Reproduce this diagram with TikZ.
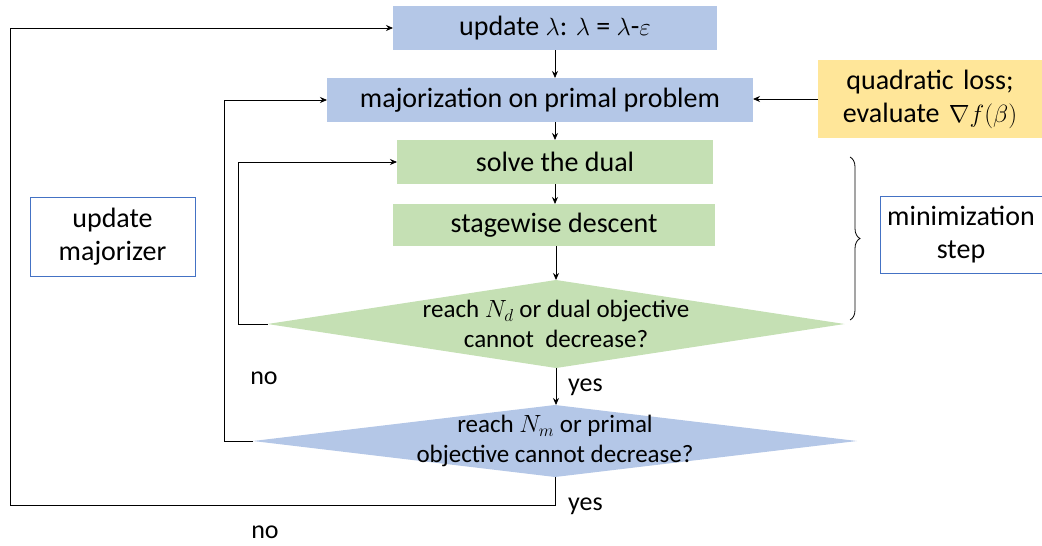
\documentclass[tikz,border=0pt]{standalone}
\usepackage{fontspec}
\setmainfont{Carlito}
\usetikzlibrary{shapes.geometric,decorations.pathreplacing,arrows.meta}
\definecolor{bluefill}{HTML}{B4C7E7}
\definecolor{greenfill}{HTML}{C5E0B4}
\definecolor{yellowfill}{HTML}{FFE699}
\definecolor{frameblue}{HTML}{4472C4}
\begin{document}
\begin{tikzpicture}[x=1pt,y=-1pt,
  box/.style={inner sep=0pt,outer sep=0pt,align=center,font=\fontsize{28}{33}\selectfont},
  bluebox/.style={box,fill=bluefill},
  greenbox/.style={box,fill=greenfill},
  yellowbox/.style={box,fill=yellowfill},
  framebox/.style={box,draw=frameblue,line width=0.6pt},
  dia/.style={shape=diamond,inner sep=0pt,outer sep=0pt},
  diatext/.style={align=center,inner sep=0pt,font=\fontsize{25}{30}\selectfont},
  lbl/.style={inner sep=0pt,font=\fontsize{26}{30}\selectfont},
  arr/.style={-{Stealth[length=7pt,width=6pt]},line width=0.8pt},
  ln/.style={line width=0.8pt}]
\useasboundingbox (0,0) rectangle (1042,546);
% boxes
\node[bluebox,minimum width=324,minimum height=44] (upd) at (555,28) {update $\lambda$: $\lambda$ = $\lambda$-$\varepsilon$};
\node[bluebox,minimum width=426,minimum height=44] (maj) at (540,100) {majorization on primal problem};
\node[yellowbox,minimum width=225,minimum height=78,text width=225] (quad) at (930,99) {quadratic loss;\\evaluate $\nabla f(\beta)$};
\node[greenbox,minimum width=316,minimum height=44] (solve) at (555,162) {solve the dual};
\node[greenbox,minimum width=322,minimum height=42] (stage) at (554,225) {stagewise descent};
\node[dia,fill=greenfill,minimum width=577,minimum height=88] (d1) at (556,324) {};
\node[diatext] (d1t) at (556,324) {reach $N_d$ or dual objective\\cannot\ \ decrease?};
\node[dia,fill=bluefill,minimum width=604,minimum height=72] (d2) at (555,441) {};
\node[diatext] (d2t) at (555,441) {reach $N_m$ or primal\\objective cannot decrease?};
\node[framebox,minimum width=165,minimum height=79,text width=165] (umaj) at (112.5,236.5) {update\\majorizer};
\node[framebox,minimum width=162,minimum height=77,text width=162] (mins) at (961,234.5) {minimization\\step};
% labels
\node[lbl,anchor=west] (yes1) at (568,387) {yes};
\node[lbl,anchor=west] (yes2) at (568,506) {yes};
\node[lbl] (no1) at (264,378) {no};
\node[lbl] (no2) at (265,532) {no};
% connectors
\draw[arr] (upd.south) -- (upd.south |- maj.north);
\draw[arr] (solve.north |- maj.south) -- (solve.north);
\draw[arr] (solve.south) -- (solve.south |- stage.north);
\draw[arr] (stage.south -| d1.north) -- (d1.north);
\draw[arr] (d1.south) -- (d1.south |- d2.north);
\draw[arr] (quad.west) -- (maj.east |- quad.west);
\coordinate (l1) at (238,324);
\draw[arr] (d1.west) -- (l1) |- (solve.west);
\coordinate (l2) at (224,441);
\draw[arr] (d2.west) -- (l2) |- (maj.west);
\coordinate (l3) at (555,505);
\coordinate (l4) at (10,505);
\draw[arr] (d2.south) -- (l3) -- (l4) |- (upd.west);
% brace
\coordinate (bt) at (850,157);
\coordinate (bb) at (850,320);
\draw[ln,decorate,decoration={brace,amplitude=10pt}] (bt) -- (bb);
\end{tikzpicture}
\end{document}
